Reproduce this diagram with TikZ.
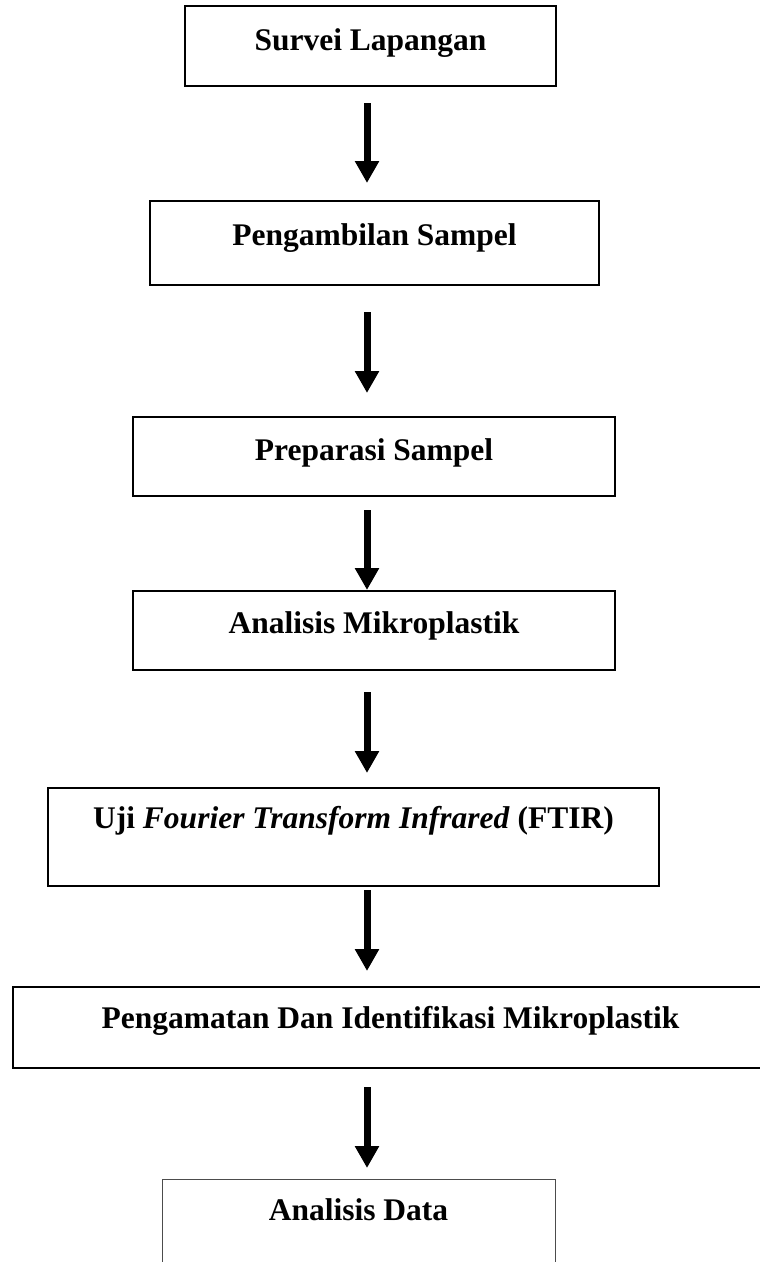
\documentclass[tikz,border=0pt]{standalone}
\usepackage{fontspec}
\setmainfont{Liberation Serif}
\usetikzlibrary{arrows.meta}

\tikzset{
  stage/.style={draw, line width=2pt, inner sep=0pt, outer sep=0pt, anchor=north west,
    text height=42pt, font=\fontsize{31.5}{38}\selectfont\bfseries},
  flow/.style={line width=7pt, -{Triangle[width=23pt,length=22pt]}}
}

\begin{document}
\begin{tikzpicture}[x=1pt,y=-1pt]
    \useasboundingbox (0,0) rectangle (760,1262);
    \coordinate (axis) at (367,0);
    \node[stage, minimum width=371pt, text height=44pt, text depth=36pt] (survei) at (185,6) {Survei Lapangan};
    \node[stage, minimum width=449pt, text height=44pt, text depth=40pt] (ambil) at (150,201) {Pengambilan Sampel};
    \node[stage, minimum width=482pt, text height=43pt, text depth=36pt] (preparasi) at (133,417) {Preparasi Sampel};
    \node[stage, minimum width=482pt, text height=42pt, text depth=37pt] (analisis) at (133,591) {Analisis Mikroplastik};
    \node[stage, minimum width=611pt, text height=40pt, text depth=58pt] (ftir) at (48,788) {Uji \textit{Fourier Transform Infrared} (FTIR)};
    \node[stage, minimum width=755pt, text height=41pt, text depth=40pt] (amati) at (13,987) {Pengamatan Dan Identifikasi Mikroplastik};
    \node[stage, line width=1pt, draw=black!70, minimum width=393pt, text height=41pt, text depth=59pt] (data) at (162,1179) {Analisis Data};
    \draw[flow, shorten <=17pt, shorten >=18pt] (survei.south -| axis) -- (ambil.north -| axis);
    \draw[flow, shorten <=27pt, shorten >=24pt] (ambil.south -| axis) -- (preparasi.north -| axis);
    \draw[flow, shorten <=14pt, shorten >=1pt] (preparasi.south -| axis) -- (analisis.north -| axis);
    \draw[flow, shorten <=22pt, shorten >=15pt] (analisis.south -| axis) -- (ftir.north -| axis);
    \draw[flow, shorten <=4pt, shorten >=16pt] (ftir.south -| axis) -- (amati.north -| axis);
    \draw[flow, shorten <=19pt, shorten >=11pt] (amati.south -| axis) -- (data.north -| axis);
\end{tikzpicture}
\end{document}
